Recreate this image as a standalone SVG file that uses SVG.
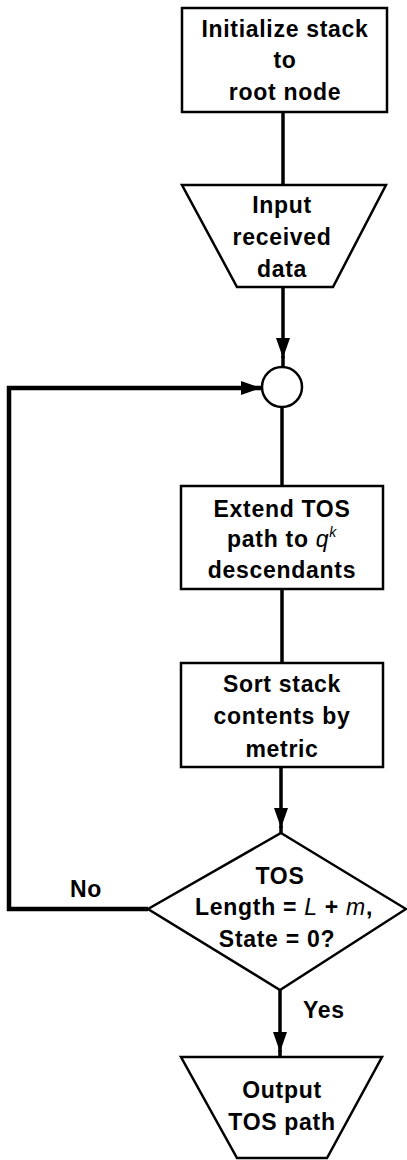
<svg xmlns="http://www.w3.org/2000/svg" width="407" height="1160" viewBox="0 0 407 1160">
<defs>
<style>
.shape{fill:#fff;stroke:#000;stroke-width:2.5;stroke-linejoin:miter}
.conn{fill:none;stroke:#000;stroke-width:3.5}
.loop{fill:none;stroke:#000;stroke-width:4.5}
text{font-family:"Liberation Sans",Arial,sans-serif;font-weight:bold;font-size:23px;letter-spacing:0.7px;fill:#000}
.c{text-anchor:middle}
.i{font-style:italic;font-weight:normal}
</style>
<marker id="ah" markerUnits="userSpaceOnUse" markerWidth="20" markerHeight="14" refX="20" refY="7" orient="auto">
<path d="M0,0 L20,7 L0,14 z" fill="#000"/>
</marker>
</defs>
<g id="connectors">
<line class="conn" x1="283" y1="112" x2="283" y2="185"/>
<line class="conn" x1="283" y1="287" x2="283" y2="358" marker-end="url(#ah)"/>
<line class="conn" x1="283" y1="356" x2="283" y2="367"/>
<line class="conn" x1="282" y1="407" x2="282" y2="486"/>
<line class="conn" x1="282" y1="589" x2="282" y2="663"/>
<line class="conn" x1="281" y1="767" x2="281" y2="828" marker-end="url(#ah)"/>
<line class="conn" x1="281" y1="826" x2="281" y2="834"/>
<line class="conn" x1="280" y1="990" x2="280" y2="1052" marker-end="url(#ah)"/>
<line class="conn" x1="280" y1="1050" x2="280" y2="1057"/>
<polyline class="loop" points="148,909 9,909 9,388 261,388" marker-end="url(#ah)"/>
<text x="70" y="897">No</text>
<text x="303" y="1018">Yes</text>
</g>
<g id="init">
<rect class="shape" x="182" y="8" width="205" height="104"/>
<text class="c" x="285" y="37">Initialize stack</text>
<text class="c" x="285" y="68">to</text>
<text class="c" x="285" y="100">root node</text>
</g>
<g id="input">
<polygon class="shape" points="182,185 386,185 333,287 237,287"/>
<text class="c" x="282" y="213">Input</text>
<text class="c" x="282" y="245">received</text>
<text class="c" x="282" y="277">data</text>
</g>
<g id="junction">
<circle class="shape" cx="282" cy="387" r="20"/>
</g>
<g id="extend">
<rect class="shape" x="181" y="486" width="202" height="103"/>
<text class="c" x="282" y="517">Extend TOS</text>
<text class="c" x="282" y="547">path to <tspan class="i">q</tspan><tspan class="i" font-size="14" dy="-10">k</tspan></text>
<text class="c" x="282" y="578">descendants</text>
</g>
<g id="sort">
<rect class="shape" x="181" y="663" width="202" height="104"/>
<text class="c" x="282" y="692">Sort stack</text>
<text class="c" x="282" y="724">contents by</text>
<text class="c" x="282" y="757">metric</text>
</g>
<g id="decision">
<polygon class="shape" points="281,833 406,909 280,990 148,909"/>
<text class="c" x="280" y="884">TOS</text>
<text class="c" x="284" y="915">Length = <tspan class="i">L</tspan> + <tspan class="i">m</tspan>,</text>
<text class="c" x="277" y="947">State = 0?</text>
</g>
<g id="output">
<polygon class="shape" points="181,1057 382,1057 327,1158 237,1158"/>
<text class="c" x="282" y="1098">Output</text>
<text class="c" x="282" y="1130">TOS path</text>
</g>
</svg>
